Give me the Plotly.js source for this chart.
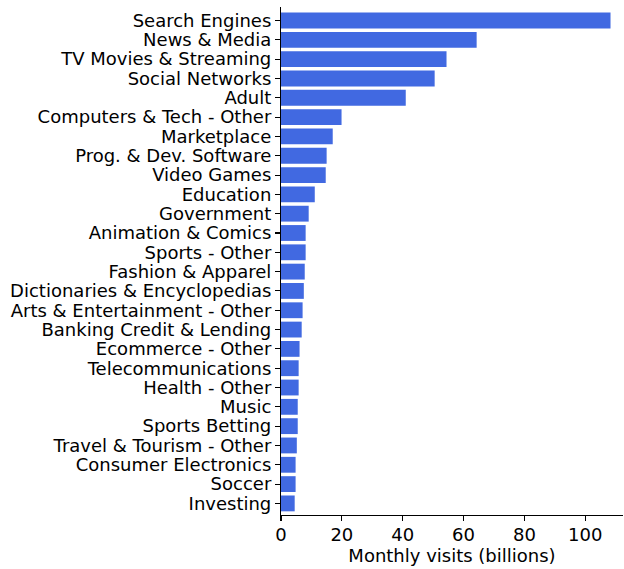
<!DOCTYPE html>
<html>
<head>
<meta charset="utf-8">
<script src="https://cdn.plot.ly/plotly-3.0.1.min.js"></script>
<style>html,body{margin:0;padding:0;background:#fff;}#chart{width:624px;height:569px;}</style>
</head>
<body>
<div id="chart"></div>
<script>
const categories = [
  "Search Engines", "News & Media", "TV Movies & Streaming", "Social Networks", "Adult",
  "Computers & Tech - Other", "Marketplace", "Prog. & Dev. Software", "Video Games", "Education",
  "Government", "Animation & Comics", "Sports - Other", "Fashion & Apparel",
  "Dictionaries & Encyclopedias", "Arts & Entertainment - Other", "Banking Credit & Lending",
  "Ecommerce - Other", "Telecommunications", "Health - Other", "Music", "Sports Betting",
  "Travel & Tourism - Other", "Consumer Electronics", "Soccer", "Investing"
];
const visits = [
  108.3, 64.3, 54.4, 50.5, 41.0,
  19.9, 17.0, 15.0, 14.7, 11.1,
  9.1, 8.1, 8.1, 7.8,
  7.5, 7.1, 6.8,
  6.1, 5.8, 5.8, 5.5, 5.5,
  5.2, 4.8, 4.8, 4.5
];
const xTicks = [0, 20, 40, 60, 80, 100];
const xTitle = "Monthly visits (billions)";

const font = {family: "DejaVu Sans", size: 18, color: "#000"};

Plotly.newPlot("chart", [{
  type: "bar",
  orientation: "h",
  x: visits,
  y: categories,
  marker: {color: "#4169E1", line: {width: 0}},
  hoverinfo: "x+y"
}], {
  width: 624, height: 569,
  margin: {l: 281, r: 1, t: 7, b: 54},
  paper_bgcolor: "#fff", plot_bgcolor: "#fff",
  bargap: 0.18,
  font: font,
  showlegend: false,
  xaxis: {
    range: [0, 112.4],
    tickmode: "array",
    tickvals: xTicks,
    ticktext: xTicks.map(String),
    showgrid: false, zeroline: false,
    showline: true, linecolor: "#000", linewidth: 1.1,
    ticks: "outside", ticklen: 5, tickwidth: 1.1, tickcolor: "#000",
    tickfont: font,
    ticklabelstandoff: -2,
    title: {text: xTitle, font: font, standoff: 3}
  },
  yaxis: {
    type: "category",
    range: [25.6, -0.7],
    tickmode: "array",
    tickvals: categories,
    ticktext: categories,
    showgrid: false, zeroline: false,
    showline: true, linecolor: "#000", linewidth: 1.1,
    ticks: "outside", ticklen: 5, tickwidth: 1.1, tickcolor: "#000",
    tickfont: font
  }
}, {displayModeBar: false, staticPlot: true});
</script>
</body>
</html>
